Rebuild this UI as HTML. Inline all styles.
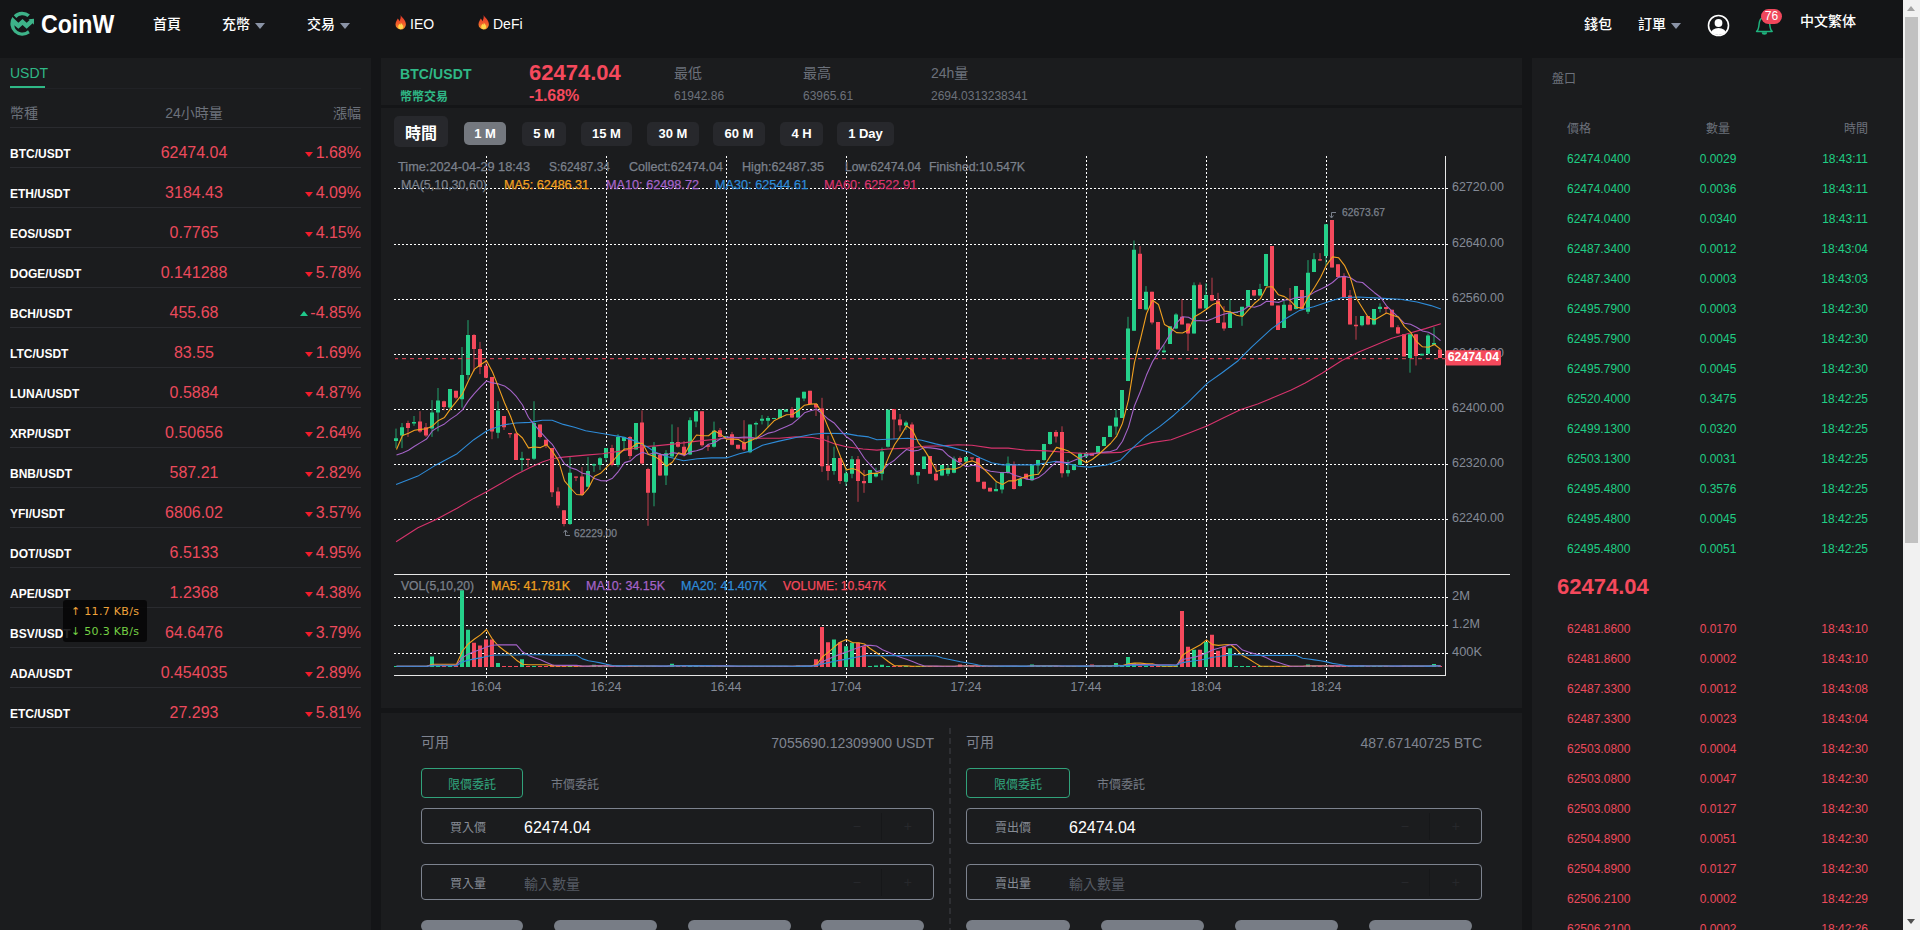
<!DOCTYPE html>
<html lang="zh-Hant">
<head>
<meta charset="utf-8">
<title>CoinW BTC/USDT</title>
<style>
*{box-sizing:border-box;margin:0;padding:0}
html,body{width:1920px;height:930px;overflow:hidden;background:#141517}
body{position:relative;font-family:"Liberation Sans","Noto Sans CJK TC",sans-serif;color:#fff;font-size:14px}
.abs{position:absolute}
#hdr{position:absolute;left:0;top:0;width:1903px;height:58px;background:#141517}
.nav{position:absolute;top:14px;height:20px;line-height:21px;font-size:14px;font-weight:500;color:#fff;white-space:nowrap}
.caret{display:inline-block;width:0;height:0;border-left:5px solid transparent;border-right:5px solid transparent;border-top:6px solid #8a93a6;margin-left:5px;vertical-align:0px}
.panel{position:absolute;background:#1b1c1e}
/* left */
#left{left:0;top:58px;width:371px;height:872px}
.mr{position:absolute;left:10px;width:351px;height:40px;border-bottom:1px solid #2a2b2f}
.mr span{position:absolute;top:0;line-height:50px;white-space:nowrap}
.mn{left:0;font-size:12px;font-weight:bold;color:#fff;top:1px!important}
.mp{left:109px;width:150px;text-align:center;font-size:16px;color:#ec4a5c}
.mc{right:0;font-size:16px;color:#ec4a5c}
.td{display:inline-block;width:0;height:0;border-left:4px solid transparent;border-right:4px solid transparent;border-top:5px solid #f21d2b;margin-right:3px;vertical-align:1px}
.tu{display:inline-block;width:0;height:0;border-left:4px solid transparent;border-right:4px solid transparent;border-bottom:5px solid #1fc98a;margin-right:2px;vertical-align:2px}
/* right */
#right{left:1532px;top:58px;width:371px;height:872px}
.or{position:absolute;left:35px;width:300px;height:30px;line-height:30px;font-size:12px;white-space:nowrap}
.or span{position:absolute;top:0}
.or span:nth-child(1){left:0}
.or span:nth-child(2){left:101px;width:100px;text-align:center}
.or span:nth-child(3){right:-1px}
.or.g{color:#1fce84}
.or.r{color:#ec4a5c}
.tb{position:absolute;top:121.5px;height:24px;line-height:24px;border-radius:5px;background:#27282c;color:#fff;font-size:13px;text-align:center;font-weight:bold}
.frm .lb{position:absolute;font-size:14px;color:#7f8490}
.inp{position:absolute;height:36px;border:1px solid #7d838f;border-radius:4px}
.inp .l{position:absolute;left:28px;top:2px;line-height:35px;font-size:12px;color:#878c96}
.inp .v{position:absolute;left:102px;top:1px;line-height:35px;font-size:16px;color:#fff}
.inp .ph{position:absolute;left:102px;top:2px;line-height:35px;font-size:14px;color:#555a63}
.inp .sp{position:absolute;right:51px;top:4px;width:1px;height:27px;background:#161719}
.inp .mi,.inp .pl{position:absolute;top:0;line-height:35px;font-size:14px;font-weight:normal;color:#27282c}.inp .mi{right:72px}.inp .pl{right:21px}
.pill{position:absolute;top:919.7px;height:12px;border-radius:6px;background:#787d86}
.ot{position:absolute;height:30px;width:102px;border:1px solid #31a27b;border-radius:4px;color:#31a77e;font-size:12px;line-height:32px;text-align:center}
.mt{position:absolute;font-size:12px;color:#757a84;line-height:34px}
</style>
</head>
<body>
<svg width="0" height="0" style="position:absolute"><defs><linearGradient id="fg" x1="0" y1="0" x2="0" y2="1"><stop offset="0" stop-color="#e2362a"/><stop offset=".55" stop-color="#f0582a"/><stop offset="1" stop-color="#f79a2e"/></linearGradient></defs></svg>
<div id="hdr">
  <svg class="abs" style="left:6px;top:8px" width="34" height="32" viewBox="0 0 988 930"><path d="M225 210A350 350 0 0 1 695 190L625 262A245 245 0 0 0 300 290Z M185 265L360 430L480 320L600 430L688 348L650 330L815 310L812 490L775 445L600 605L480 495L360 605L240 500A240 240 0 0 0 640 650L690 735A350 350 0 0 1 185 265Z" fill="#3db389"/></svg>
  <div class="abs" style="left:41px;top:8px;font-size:26px;font-weight:bold;line-height:32px;transform:scaleX(.89);transform-origin:0 0;letter-spacing:0">CoinW</div>
  <div class="nav" style="left:153px">首頁</div>
  <div class="nav" style="left:222px">充幣<i class="caret"></i></div>
  <div class="nav" style="left:307px">交易<i class="caret"></i></div>
  <div class="nav" style="left:395px"><svg width="12" height="15" viewBox="0 0 12 15" style="vertical-align:-0.5px;margin-right:3px"><path d="M5.6 0C6.4 2.4 10.9 4.8 10.9 9.2A5.2 5.2 0 0 1 .5 9.4C.5 7 2 5.4 2.8 3.6C3.6 4.4 4.1 5.3 4.3 6.2C5.4 4.6 6 2.6 5.6 0Z" fill="url(#fg)"/><path d="M5.7 7.4C7 9 8.2 10.2 8.2 11.8A2.5 2.5 0 0 1 3.2 11.8C3.2 10.4 4.1 9.8 4.6 8.8C5 9.2 5.2 9.5 5.4 9.9C5.7 9.1 5.9 8.3 5.7 7.4Z" fill="#ffd54a"/></svg>IEO</div>
  <div class="nav" style="left:478px"><svg width="12" height="15" viewBox="0 0 12 15" style="vertical-align:-0.5px;margin-right:3px"><path d="M5.6 0C6.4 2.4 10.9 4.8 10.9 9.2A5.2 5.2 0 0 1 .5 9.4C.5 7 2 5.4 2.8 3.6C3.6 4.4 4.1 5.3 4.3 6.2C5.4 4.6 6 2.6 5.6 0Z" fill="url(#fg)"/><path d="M5.7 7.4C7 9 8.2 10.2 8.2 11.8A2.5 2.5 0 0 1 3.2 11.8C3.2 10.4 4.1 9.8 4.6 8.8C5 9.2 5.2 9.5 5.4 9.9C5.7 9.1 5.9 8.3 5.7 7.4Z" fill="#ffd54a"/></svg>DeFi</div>
  <div class="nav" style="left:1584px">錢包</div>
  <div class="nav" style="left:1638px">訂單<i class="caret"></i></div>
  <svg class="abs" style="left:1707px;top:13.5px" width="23" height="23" viewBox="0 0 23 23"><defs><clipPath id="uc"><circle cx="11.5" cy="11.5" r="9.6"/></clipPath></defs><circle cx="11.5" cy="11.5" r="10" fill="none" stroke="#fff" stroke-width="1.6"/><circle cx="11.5" cy="9" r="3.9" fill="#fff"/><ellipse cx="11.5" cy="20.5" rx="8" ry="6.6" fill="#fff" clip-path="url(#uc)"/></svg>
  <svg class="abs" style="left:1754px;top:15px" width="22" height="22" viewBox="0 0 22 22"><path d="M2.6 16.4C5.4 14.4 4.6 9.6 5.6 6.4C6.4 3.8 8.2 2.6 10.4 2.6C12.6 2.6 14.4 3.8 15.2 6.4C16.2 9.6 15.4 14.4 18.2 16.4Z" fill="none" stroke="#1fb37e" stroke-width="1.5" stroke-linejoin="round"/><path d="M7.7 17.2a2.7 2.5 0 0 0 5.4 0z" fill="#1fb37e"/></svg>
  <div class="abs" style="left:1761px;top:9px;width:21px;height:15px;border-radius:7.5px;background:#f0475c;color:#fff;font-size:12px;line-height:15px;text-align:center">76</div>
  <div class="nav" style="left:1800px;top:11px">中文繁体</div>
</div>

<div class="panel" id="left">
  <div class="abs" style="left:10px;top:5px;font-size:14px;line-height:20px;color:#2fb886">USDT</div>
  <div class="abs" style="left:10px;top:30px;width:351px;height:1px;background:#212226"></div>
  <div class="abs" style="left:10px;top:28px;width:35px;height:2px;background:#2fb886"></div>
  <div class="abs" style="left:10px;top:45px;font-size:14px;line-height:20px;color:#6c717b">幣種</div>
  <div class="abs" style="left:119px;top:45px;width:150px;text-align:center;font-size:14px;line-height:20px;color:#6c717b">24小時量</div>
  <div class="abs" style="right:10px;top:45px;font-size:14px;line-height:20px;color:#6c717b">漲幅</div>
  <div class="abs" style="left:10px;top:69px;width:351px;height:1px;background:#2a2b2f"></div>
  <div id="rows" style="position:absolute;left:0;top:70px;width:371px">
<div class="mr" style="top:0px"><span class="mn">BTC/USDT</span><span class="mp">62474.04</span><span class="mc"><i class="td"></i>1.68%</span></div>
<div class="mr" style="top:40px"><span class="mn">ETH/USDT</span><span class="mp">3184.43</span><span class="mc"><i class="td"></i>4.09%</span></div>
<div class="mr" style="top:80px"><span class="mn">EOS/USDT</span><span class="mp">0.7765</span><span class="mc"><i class="td"></i>4.15%</span></div>
<div class="mr" style="top:120px"><span class="mn">DOGE/USDT</span><span class="mp">0.141288</span><span class="mc"><i class="td"></i>5.78%</span></div>
<div class="mr" style="top:160px"><span class="mn">BCH/USDT</span><span class="mp">455.68</span><span class="mc"><i class="tu"></i>-4.85%</span></div>
<div class="mr" style="top:200px"><span class="mn">LTC/USDT</span><span class="mp">83.55</span><span class="mc"><i class="td"></i>1.69%</span></div>
<div class="mr" style="top:240px"><span class="mn">LUNA/USDT</span><span class="mp">0.5884</span><span class="mc"><i class="td"></i>4.87%</span></div>
<div class="mr" style="top:280px"><span class="mn">XRP/USDT</span><span class="mp">0.50656</span><span class="mc"><i class="td"></i>2.64%</span></div>
<div class="mr" style="top:320px"><span class="mn">BNB/USDT</span><span class="mp">587.21</span><span class="mc"><i class="td"></i>2.82%</span></div>
<div class="mr" style="top:360px"><span class="mn">YFI/USDT</span><span class="mp">6806.02</span><span class="mc"><i class="td"></i>3.57%</span></div>
<div class="mr" style="top:400px"><span class="mn">DOT/USDT</span><span class="mp">6.5133</span><span class="mc"><i class="td"></i>4.95%</span></div>
<div class="mr" style="top:440px"><span class="mn">APE/USDT</span><span class="mp">1.2368</span><span class="mc"><i class="td"></i>4.38%</span></div>
<div class="mr" style="top:480px"><span class="mn">BSV/USDT</span><span class="mp">64.6476</span><span class="mc"><i class="td"></i>3.79%</span></div>
<div class="mr" style="top:520px"><span class="mn">ADA/USDT</span><span class="mp">0.454035</span><span class="mc"><i class="td"></i>2.89%</span></div>
<div class="mr" style="top:560px"><span class="mn">ETC/USDT</span><span class="mp">27.293</span><span class="mc"><i class="td"></i>5.81%</span></div>
  </div>
  <div class="abs" style="left:63px;top:542px;width:84px;height:42px;background:rgba(6,6,7,.88);border-radius:3px;font-family:'DejaVu Sans','Liberation Sans',sans-serif;font-size:11px;letter-spacing:.3px;line-height:19.5px;padding:2px 0 0 8px;white-space:nowrap"><div style="color:#f0a33a">↑ 11.7 KB/s</div><div style="color:#74d044">↓ 50.3 KB/s</div></div>
</div>

<div class="panel" style="left:381px;top:58px;width:1141px;height:47px">
  <div class="abs" style="left:19px;top:7px;font-size:14px;font-weight:bold;line-height:18px;color:#2fb886;letter-spacing:.1px">BTC/USDT</div>
  <div class="abs" style="left:19px;top:29.5px;font-size:12px;font-weight:bold;line-height:18px;color:#2fb886">幣幣交易</div>
  <div class="abs" style="left:148px;top:2.5px;font-size:22px;font-weight:bold;line-height:24px;color:#f5495c;letter-spacing:0">62474.04</div>
  <div class="abs" style="left:148px;top:29px;font-size:16px;font-weight:bold;line-height:18px;color:#f5495c;letter-spacing:-.1px">-1.68%</div>
  <div class="abs" style="left:293px;top:5px;font-size:14px;line-height:20px;color:#6c717b">最低</div>
  <div class="abs" style="left:293px;top:29px;font-size:12px;line-height:18px;color:#6c717b">61942.86</div>
  <div class="abs" style="left:422px;top:5px;font-size:14px;line-height:20px;color:#6c717b">最高</div>
  <div class="abs" style="left:422px;top:29px;font-size:12px;line-height:18px;color:#6c717b">63965.61</div>
  <div class="abs" style="left:550px;top:5px;font-size:14px;line-height:20px;color:#6c717b">24h量</div>
  <div class="abs" style="left:550px;top:29px;font-size:12px;line-height:18px;color:#6c717b">2694.0313238341</div>
</div>

<div class="panel" style="left:381px;top:108px;width:1141px;height:600px"></div>
<div class="abs" style="left:394px;top:116px;width:54px;height:31px;border-radius:5px;background:#27282c;font-size:16px;font-weight:bold;line-height:36px;text-align:center;color:#fff">時間</div>
<div class="tb" style="left:464px;width:42px;background:#74787f;top:122px;height:23px;line-height:23px">1 M</div>
<div class="tb" style="left:522px;width:44px">5 M</div>
<div class="tb" style="left:581px;width:51px">15 M</div>
<div class="tb" style="left:647px;width:52px">30 M</div>
<div class="tb" style="left:713px;width:52px">60 M</div>
<div class="tb" style="left:780px;width:43px">4 H</div>
<div class="tb" style="left:837px;width:57px">1 Day</div>
<svg class="chart" width="1140" height="600" viewBox="381 108 1140 600" style="position:absolute;left:381px;top:108px" font-family="Liberation Sans, sans-serif">
<path d="M394 188.5H1449M394 244.5H1449M394 299.5H1449M394 354.5H1449M394 409.5H1449M394 464.5H1449M394 519.5H1449M394 597.5H1449M394 625.5H1449M394 653.5H1449M486.5 156V679M606.5 156V679M726.5 156V679M846.5 156V679M966.5 156V679M1086.5 156V679M1206.5 156V679M1326.5 156V679" stroke="#fff" stroke-width="1" stroke-dasharray="2 2" fill="none" shape-rendering="crispEdges"/>
<path d="M1445.5 156V676M394 574.5H1510M394 675.5H1446" stroke="#e6e6e6" stroke-width="1" fill="none" shape-rendering="crispEdges"/>
<path d="M396 428.6V448.1M402 423.0V448.1M414 416.0V425.8M432 400.1V436.9M438 388.0V431.4M450 388.9V410.4M462 347.0V407.6M468 320.1V379.7M498 401.2V438.3M522 451.8V471.0M534 401.2V459.9M570 457.1V525.0M588 457.1V487.3M594 463.5V471.9M600 457.1V469.9M606 448.1V462.1M618 434.2V467.1M624 436.4V449.5M636 423.0V449.5M654 442.0V506.3M666 450.1V485.0M672 424.4V457.9M690 417.4V455.1M696 410.4V427.2M714 421.6V447.6M726 436.1V437.5M750 424.4V453.2M756 421.6V439.7M762 415.1V424.4M768 416.0V427.2M774 417.9V419.1M780 409.6V417.9M786 409.6V411.8M798 397.8V417.9M804 391.7V401.2M834 446.7V474.7M846 467.7V485.9M852 456.0V478.3M870 469.9V483.1M876 467.7V477.5M882 447.6V480.3M888 409.8V447.6M906 420.7V430.0M918 471.9V483.9M924 456.5V469.1M942 464.9V476.1M948 464.9V476.1M954 456.5V473.3M966 456.5V463.5M996 482.2V491.2M1002 471.9V493.4M1008 456.5V473.8M1020 478.9V486.7M1032 464.3V481.1M1038 459.9V474.7M1044 443.9V460.7M1050 431.9V444.8M1068 459.9V476.6M1074 464.3V470.5M1080 452.3V465.5M1086 452.3V457.9M1098 445.9V452.9M1104 437.0V445.9M1110 425.8V437.0M1116 409.6V434.8M1122 390.1V418.0M1128 316.8V381.1M1134 240.5V330.8M1146 286.1V310.4M1164 345.3V353.2M1170 326.3V343.9M1176 313.2V329.1M1194 282.4V333.6M1206 283.3V308.4M1230 299.2V328.0M1236 311.8V312.9M1242 306.8V325.8M1248 290.0V306.8M1260 283.8V296.4M1266 253.9V286.1M1284 300.1V328.0M1296 286.1V309.6M1308 260.1V314.0M1314 253.1V272.1M1326 224.3V265.7M1362 316.0V326.3M1374 309.0V325.2M1380 303.4V312.4M1410 334.2V372.7M1422 353.7V355.4M1428 333.6V354.3M1434 327.2V345.3" stroke="#25d08a" stroke-opacity=".75" stroke-width="1" fill="none"/>
<path d="M408 420.7V436.9M420 411.2V432.8M426 423.0V436.9M444 400.6V410.4M456 390.8V399.2M474 334.1V371.3M480 341.9V374.1M486 360.1V378.3M492 376.9V439.2M504 416.0V430.0M510 433.0V437.8M516 432.8V459.9M528 458.7V467.1M540 424.4V438.3M546 439.7V448.1M552 448.1V497.0M558 487.3V508.2M564 510.2V526.4M576 476.6V481.1M582 467.1V495.6M612 444.8V466.3M630 436.1V459.3M642 410.4V464.3M648 467.7V525.8M660 453.2V476.1M678 427.2V447.6M684 441.1V456.5M702 411.2V446.7M708 443.9V450.9M720 428.0V437.5M732 431.9V445.3M738 444.8V449.5M744 420.2V450.9M792 407.0V417.9M810 390.8V404.8M816 404.0V416.0M822 397.8V471.9M828 435.6V480.3M840 457.9V483.9M858 456.0V501.8M864 469.9V492.8M894 409.0V439.2M900 414.0V431.4M912 422.4V475.5M930 456.0V473.8M936 464.3V481.1M960 456.5V464.9M972 457.4V460.7M978 457.9V482.2M984 481.7V489.5M990 487.8V491.4M1014 461.5V489.5M1026 473.8V479.4M1056 430.0V442.5M1062 426.3V477.5M1092 452.9V455.7M1140 246.1V309.0M1152 291.7V324.4M1158 321.9V349.5M1182 299.2V324.4M1188 323.5V350.9M1200 282.4V308.4M1212 277.7V301.2M1218 292.8V323.0M1224 306.2V330.8M1254 290.0V296.4M1272 246.1V305.6M1278 305.6V330.0M1290 288.0V311.2M1302 290.0V309.6M1320 253.1V260.9M1332 220.1V267.6M1338 264.3V276.9M1344 273.2V297.8M1350 290.0V324.4M1356 316.0V339.7M1368 316.0V325.2M1386 307.0V313.2M1392 309.8V327.2M1398 325.2V334.2M1404 334.2V356.5M1416 334.2V365.5M1440 349.5V357.9" stroke="#f5495c" stroke-opacity=".75" stroke-width="1" fill="none"/>
<path d="M394 438.3h4v2.8h-4zM400 427.2h4v8.4h-4zM412 421.9h4v1.6h-4zM430 412.6h4v16.0h-4zM436 400.6h4v12.0h-4zM448 388.9h4v18.7h-4zM460 374.9h4v24.3h-4zM466 334.9h4v40.0h-4zM496 410.4h4v22.4h-4zM520 458.2h4v1.7h-4zM532 423.0h4v35.7h-4zM568 472.7h4v51.4h-4zM586 471.0h4v15.7h-4zM592 464.3h4v1.2h-4zM598 458.2h4v6.7h-4zM604 448.1h4v9.8h-4zM616 436.9h4v28.0h-4zM622 436.9h4v4.2h-4zM634 423.0h4v26.5h-4zM652 446.7h4v46.1h-4zM664 453.2h4v22.3h-4zM670 442.0h4v14.5h-4zM688 420.2h4v34.4h-4zM694 411.2h4v10.4h-4zM712 430.8h4v15.9h-4zM724 436.1h4v1.4h-4zM748 424.4h4v27.9h-4zM754 423.0h4v1.4h-4zM760 418.8h4v1.9h-4zM766 417.9h4v2.8h-4zM772 417.9h4v1.2h-4zM778 409.6h4v8.3h-4zM784 409.6h4v2.2h-4zM796 397.8h4v19.6h-4zM802 391.7h4v6.7h-4zM832 457.9h4v13.1h-4zM844 473.3h4v8.4h-4zM850 459.3h4v14.5h-4zM868 469.9h4v13.2h-4zM874 473.3h4v3.3h-4zM880 451.5h4v22.3h-4zM886 409.8h4v36.9h-4zM904 422.4h4v3.4h-4zM916 471.9h4v3.6h-4zM922 456.5h4v12.6h-4zM940 464.9h4v10.6h-4zM946 468.3h4v5.5h-4zM952 458.7h4v14.0h-4zM964 457.1h4v4.4h-4zM994 488.9h4v2.3h-4zM1000 471.9h4v17.6h-4zM1006 463.5h4v9.2h-4zM1018 478.9h4v7.0h-4zM1030 464.9h4v15.4h-4zM1036 459.9h4v5.6h-4zM1042 443.9h4v16.0h-4zM1048 431.9h4v12.0h-4zM1066 469.9h4v3.4h-4zM1072 464.3h4v5.6h-4zM1078 453.2h4v11.7h-4zM1084 453.2h4v3.3h-4zM1096 445.9h4v7.0h-4zM1102 437.0h4v8.9h-4zM1108 425.8h4v11.2h-4zM1114 417.4h4v9.0h-4zM1120 390.1h4v27.9h-4zM1126 328.6h4v52.5h-4zM1132 249.7h4v81.1h-4zM1144 291.7h4v17.9h-4zM1162 350.4h4v1.9h-4zM1168 326.3h4v17.6h-4zM1174 314.6h4v14.0h-4zM1192 285.2h4v48.4h-4zM1204 295.0h4v13.4h-4zM1228 312.4h4v15.6h-4zM1234 311.8h4v1.1h-4zM1240 306.8h4v9.2h-4zM1246 290.0h4v16.8h-4zM1258 288.9h4v6.7h-4zM1264 253.9h4v32.2h-4zM1282 304.8h4v23.2h-4zM1294 286.1h4v22.9h-4zM1306 272.7h4v39.1h-4zM1312 259.3h4v12.8h-4zM1324 224.3h4v31.6h-4zM1360 316.0h4v9.2h-4zM1372 309.0h4v15.4h-4zM1378 306.8h4v2.2h-4zM1408 334.2h4v23.7h-4zM1420 353.7h4v1.7h-4zM1426 335.6h4v18.1h-4zM1432 343.1h4v1.7h-4z" fill="#25d08a"/>
<path d="M406 423.0h4v5.0h-4zM418 421.6h4v9.8h-4zM424 427.2h4v8.4h-4zM442 401.2h4v5.8h-4zM454 390.8h4v7.0h-4zM472 334.9h4v14.0h-4zM478 348.9h4v18.2h-4zM484 365.7h4v12.0h-4zM490 376.9h4v54.5h-4zM502 416.0h4v11.2h-4zM508 433.0h4v1.2h-4zM514 433.6h4v26.3h-4zM526 458.7h4v1.2h-4zM538 424.4h4v12.5h-4zM544 439.7h4v5.6h-4zM550 448.1h4v44.2h-4zM556 491.4h4v14.0h-4zM562 510.2h4v13.9h-4zM574 476.6h4v1.2h-4zM580 476.6h4v18.5h-4zM610 448.1h4v16.8h-4zM628 436.9h4v19.1h-4zM640 422.4h4v41.1h-4zM646 469.1h4v23.7h-4zM658 455.1h4v20.4h-4zM676 442.0h4v4.7h-4zM682 446.7h4v8.4h-4zM700 411.2h4v34.1h-4zM706 445.3h4v1.4h-4zM718 430.2h4v6.7h-4zM730 434.2h4v10.6h-4zM736 444.8h4v3.9h-4zM742 442.5h4v7.0h-4zM790 409.0h4v8.4h-4zM808 390.8h4v13.2h-4zM814 404.0h4v3.6h-4zM820 408.4h4v57.9h-4zM826 465.5h4v5.5h-4zM838 457.9h4v23.2h-4zM856 459.3h4v21.8h-4zM862 481.1h4v2.2h-4zM892 409.0h4v10.6h-4zM898 419.6h4v5.6h-4zM910 424.4h4v50.3h-4zM928 456.0h4v17.8h-4zM934 473.8h4v6.5h-4zM958 457.9h4v4.2h-4zM970 457.4h4v1.1h-4zM976 457.9h4v23.8h-4zM982 481.7h4v7.0h-4zM988 487.8h4v3.6h-4zM1012 464.3h4v24.6h-4zM1024 473.8h4v5.1h-4zM1054 431.9h4v4.5h-4zM1060 431.9h4v41.4h-4zM1090 452.9h4v2.8h-4zM1138 253.7h4v55.3h-4zM1150 291.7h4v30.7h-4zM1156 321.9h4v27.6h-4zM1180 316.8h4v7.6h-4zM1186 323.5h4v10.1h-4zM1198 284.7h4v23.7h-4zM1210 295.0h4v5.6h-4zM1216 300.6h4v22.4h-4zM1222 322.4h4v6.2h-4zM1252 290.0h4v5.6h-4zM1270 246.1h4v59.5h-4zM1276 305.6h4v24.4h-4zM1288 304.8h4v5.6h-4zM1300 290.0h4v19.0h-4zM1318 259.3h4v1.1h-4zM1330 220.1h4v47.5h-4zM1336 264.3h4v12.6h-4zM1342 276.0h4v21.3h-4zM1348 295.6h4v28.8h-4zM1354 324.7h4v1.6h-4zM1366 316.0h4v8.4h-4zM1384 307.0h4v2.0h-4zM1390 309.8h4v17.4h-4zM1396 327.2h4v6.4h-4zM1402 334.2h4v22.3h-4zM1414 334.2h4v21.8h-4zM1438 349.5h4v8.4h-4z" fill="#f5495c"/>
<path d="M395 358.7H1446" stroke="#f5495c" stroke-opacity="1" stroke-width="1" stroke-dasharray="4 4" stroke-dashoffset="1" fill="none"/>
<polyline points="396.1,541.8 417.9,527.8 436.1,519.4 457.1,508.2 473.8,498.4 487.0,491.4 501.8,483.1 515.8,474.7 529.7,467.7 542.3,462.1 552.1,458.7 563.3,457.1 585.6,455.1 602.4,453.7 622.0,450.9 641.5,446.7 655.5,445.9 675.1,443.9 697.4,441.1 726.5,438.3 739.4,437.8 756.8,438.3 779.1,438.3 795.9,436.9 812.7,437.5 823.8,439.7 835.0,443.9 846.2,446.7 863.0,449.0 876.9,450.1 888.1,449.0 907.7,448.1 924.5,446.2 941.2,445.9 958.0,444.8 972.0,445.3 991.5,448.1 1008.3,448.1 1025.1,450.1 1047.4,450.9 1064.2,452.3 1081.0,453.2 1089.4,453.2 1106.8,452.9 1120.7,452.4 1134.7,447.3 1151.5,442.6 1171.1,439.8 1187.8,433.4 1207.4,425.8 1224.2,417.4 1240.9,409.6 1257.7,404.0 1274.5,397.0 1291.2,390.1 1305.2,383.1 1322.0,373.3 1341.5,360.7 1358.3,352.3 1375.1,345.3 1391.8,338.3 1405.8,334.2 1425.4,328.6 1440.8,323.8" stroke="#d6336c" stroke-width="1.1" fill="none" stroke-linejoin="round"/>
<polyline points="396.1,484.5 417.9,476.1 436.1,464.9 457.1,453.7 473.8,439.7 487.0,430.8 501.8,425.2 515.8,423.0 529.7,422.4 542.3,420.2 552.1,420.2 563.3,424.4 574.5,427.2 585.6,430.8 606.6,434.2 622.0,436.9 635.9,441.1 647.1,446.7 655.5,452.3 666.7,456.5 683.5,460.7 697.4,458.7 711.4,457.9 726.5,457.9 739.4,453.7 751.2,450.9 762.4,445.3 779.1,441.1 795.9,437.5 812.7,434.2 823.8,433.3 846.2,433.6 857.4,435.6 868.6,436.9 876.9,439.7 888.1,439.2 907.7,438.3 921.7,440.3 935.6,443.9 952.4,447.6 969.2,452.3 980.4,457.9 991.5,462.7 1002.7,464.9 1019.5,464.9 1033.5,464.9 1047.4,462.7 1055.8,461.3 1067.0,463.5 1078.2,466.3 1089.4,467.1 1106.8,465.0 1120.7,459.9 1131.9,448.7 1145.9,436.2 1159.9,426.4 1173.8,415.2 1187.8,402.6 1207.4,383.1 1221.4,373.3 1238.1,360.7 1252.1,346.7 1271.7,328.6 1285.6,318.8 1299.6,310.4 1313.6,306.8 1327.6,302.0 1341.5,297.8 1358.3,297.0 1383.5,298.4 1400.2,299.2 1417.0,302.0 1431.0,305.6 1440.8,309.0" stroke="#2e8bd8" stroke-width="1.1" fill="none" stroke-linejoin="round"/>
<polyline points="396.5,455.1 402.5,452.9 408.5,450.2 414.5,446.2 420.5,442.6 426.5,439.1 432.5,430.7 438.5,426.9 444.5,423.9 450.5,419.1 456.5,415.1 462.5,409.9 468.5,400.6 474.5,393.3 480.5,386.8 486.5,381.0 492.5,382.9 498.5,383.9 504.5,385.9 510.5,390.4 516.5,396.7 522.5,405.0 528.5,417.5 534.5,424.9 540.5,431.9 546.5,438.6 552.5,444.7 558.5,454.2 564.5,463.9 570.5,467.8 576.5,469.6 582.5,473.2 588.5,474.4 594.5,478.5 600.5,480.6 606.5,480.9 612.5,478.2 618.5,471.3 624.5,462.6 630.5,460.9 636.5,455.4 642.5,452.3 648.5,454.5 654.5,452.7 660.5,454.4 666.5,454.9 672.5,452.6 678.5,453.6 684.5,455.4 690.5,451.9 696.5,450.7 702.5,448.9 708.5,444.3 714.5,442.7 720.5,438.8 726.5,437.1 732.5,437.4 738.5,437.6 744.5,437.0 750.5,437.4 756.5,438.6 762.5,436.0 768.5,433.1 774.5,431.8 780.5,429.1 786.5,426.4 792.5,423.7 798.5,418.6 804.5,412.8 810.5,410.8 816.5,409.2 822.5,414.0 828.5,419.3 834.5,423.3 840.5,430.4 846.5,436.8 852.5,441.0 858.5,449.3 864.5,458.5 870.5,465.1 876.5,471.6 882.5,470.2 888.5,464.1 894.5,460.2 900.5,454.6 906.5,449.5 912.5,451.1 918.5,450.2 924.5,447.5 930.5,447.9 936.5,448.6 942.5,449.9 948.5,455.8 954.5,459.7 960.5,463.4 966.5,466.8 972.5,465.2 978.5,466.2 984.5,469.4 990.5,471.2 996.5,472.0 1002.5,472.7 1008.5,472.2 1014.5,475.3 1020.5,476.9 1026.5,479.1 1032.5,479.8 1038.5,477.6 1044.5,473.1 1050.5,467.2 1056.5,461.9 1062.5,462.1 1068.5,462.7 1074.5,460.2 1080.5,457.7 1086.5,455.1 1092.5,454.2 1098.5,452.8 1104.5,452.1 1110.5,451.5 1116.5,449.6 1122.5,441.2 1128.5,427.1 1134.5,405.7 1140.5,391.2 1146.5,375.1 1152.5,361.8 1158.5,352.1 1164.5,343.5 1170.5,333.5 1176.5,323.2 1182.5,316.7 1188.5,317.2 1194.5,320.7 1200.5,320.6 1206.5,321.0 1212.5,318.8 1218.5,316.1 1224.5,314.0 1230.5,312.6 1236.5,312.3 1242.5,310.5 1248.5,306.2 1254.5,307.2 1260.5,305.3 1266.5,301.2 1272.5,301.7 1278.5,302.4 1284.5,300.0 1290.5,299.8 1296.5,297.2 1302.5,297.4 1308.5,295.7 1314.5,292.1 1320.5,289.2 1326.5,286.3 1332.5,282.5 1338.5,277.1 1344.5,276.4 1350.5,277.8 1356.5,281.8 1362.5,282.5 1368.5,287.7 1374.5,292.7 1380.5,297.3 1386.5,305.8 1392.5,311.7 1398.5,317.4 1404.5,323.3 1410.5,324.3 1416.5,327.3 1422.5,331.0 1428.5,332.2 1434.5,335.6 1440.5,340.7" stroke="#a463c7" stroke-width="1.1" fill="none" stroke-linejoin="round"/>
<polyline points="396.5,449.5 402.5,435.5 408.5,433.3 414.5,430.3 420.5,429.4 426.5,428.8 432.5,425.9 438.5,420.4 444.5,417.4 450.5,408.9 456.5,401.4 462.5,393.8 468.5,380.7 474.5,369.1 480.5,364.7 486.5,360.7 492.5,372.0 498.5,387.1 504.5,402.8 510.5,416.2 516.5,432.6 522.5,438.0 528.5,447.9 534.5,447.0 540.5,447.6 546.5,444.7 552.5,451.5 558.5,460.6 564.5,480.8 570.5,488.0 576.5,494.5 582.5,495.0 588.5,488.1 594.5,476.2 600.5,473.3 606.5,467.3 612.5,461.3 618.5,454.5 624.5,449.0 630.5,448.6 636.5,443.5 642.5,443.3 648.5,454.4 654.5,456.4 660.5,460.3 666.5,466.3 672.5,462.0 678.5,452.8 684.5,454.5 690.5,443.4 696.5,435.0 702.5,435.7 708.5,435.7 714.5,430.8 720.5,434.2 726.5,439.2 732.5,439.1 738.5,439.5 744.5,443.2 750.5,440.7 756.5,438.1 762.5,432.9 768.5,426.7 774.5,420.4 780.5,417.4 786.5,414.8 792.5,414.5 798.5,410.5 804.5,405.2 810.5,404.1 816.5,403.7 822.5,413.5 828.5,428.1 834.5,441.4 840.5,456.8 846.5,469.9 852.5,468.5 858.5,470.5 864.5,475.6 870.5,473.4 876.5,473.4 882.5,471.8 888.5,457.6 894.5,444.8 900.5,435.9 906.5,425.7 912.5,430.3 918.5,442.8 924.5,450.1 930.5,459.9 936.5,471.4 942.5,469.5 948.5,468.8 954.5,469.2 960.5,466.9 966.5,462.2 972.5,460.9 978.5,463.6 984.5,469.6 990.5,475.5 996.5,481.8 1002.5,484.5 1008.5,480.9 1014.5,480.9 1020.5,478.4 1026.5,476.4 1032.5,475.0 1038.5,474.3 1044.5,465.3 1050.5,455.9 1056.5,447.4 1062.5,449.1 1068.5,451.1 1074.5,455.2 1080.5,459.4 1086.5,462.8 1092.5,459.3 1098.5,454.5 1104.5,449.0 1110.5,443.5 1116.5,436.4 1122.5,423.2 1128.5,399.8 1134.5,362.3 1140.5,339.0 1146.5,313.8 1152.5,300.3 1158.5,304.5 1164.5,324.6 1170.5,328.1 1176.5,332.6 1182.5,333.0 1188.5,329.9 1194.5,316.8 1200.5,313.2 1206.5,309.3 1212.5,304.6 1218.5,302.4 1224.5,311.1 1230.5,311.9 1236.5,315.3 1242.5,316.5 1248.5,309.9 1254.5,303.3 1260.5,298.6 1266.5,287.0 1272.5,286.8 1278.5,294.8 1284.5,296.6 1290.5,300.9 1296.5,307.4 1302.5,308.1 1308.5,296.6 1314.5,287.5 1320.5,277.5 1326.5,265.1 1332.5,256.9 1338.5,257.7 1344.5,265.3 1350.5,278.1 1356.5,298.5 1362.5,308.2 1368.5,317.7 1374.5,320.0 1380.5,316.5 1386.5,313.0 1392.5,315.3 1398.5,317.1 1404.5,326.6 1410.5,332.1 1416.5,341.5 1422.5,346.8 1428.5,347.2 1434.5,344.5 1440.5,349.3" stroke="#f0a020" stroke-width="1.1" fill="none" stroke-linejoin="round"/>
<path d="M394 667h4v-1.0h-4zM400 667h4v-1.0h-4zM412 667h4v-1.0h-4zM430 667h4v-10.5h-4zM436 667h4v-1.0h-4zM448 667h4v-1.0h-4zM460 667h4v-76.7h-4zM466 667h4v-37.3h-4zM496 667h4v-4.1h-4zM520 667h4v-7.7h-4zM532 667h4v-1.0h-4zM568 667h4v-1.0h-4zM586 667h4v-1.0h-4zM592 667h4v-2.2h-4zM598 667h4v-1.0h-4zM604 667h4v-1.0h-4zM616 667h4v-1.0h-4zM622 667h4v-1.0h-4zM634 667h4v-1.0h-4zM652 667h4v-1.0h-4zM664 667h4v-1.0h-4zM670 667h4v-3.3h-4zM688 667h4v-1.0h-4zM694 667h4v-1.0h-4zM712 667h4v-1.0h-4zM724 667h4v-1.0h-4zM748 667h4v-1.0h-4zM754 667h4v-1.0h-4zM760 667h4v-1.0h-4zM766 667h4v-1.0h-4zM772 667h4v-1.0h-4zM778 667h4v-1.0h-4zM784 667h4v-1.0h-4zM796 667h4v-1.5h-4zM802 667h4v-1.0h-4zM832 667h4v-27.6h-4zM844 667h4v-20.7h-4zM850 667h4v-24.3h-4zM868 667h4v-1.0h-4zM874 667h4v-1.4h-4zM880 667h4v-2.2h-4zM886 667h4v-1.0h-4zM904 667h4v-1.0h-4zM916 667h4v-1.0h-4zM922 667h4v-1.0h-4zM940 667h4v-1.0h-4zM946 667h4v-1.0h-4zM952 667h4v-1.0h-4zM964 667h4v-1.0h-4zM994 667h4v-1.0h-4zM1000 667h4v-1.0h-4zM1006 667h4v-1.0h-4zM1018 667h4v-1.0h-4zM1030 667h4v-2.5h-4zM1036 667h4v-1.0h-4zM1042 667h4v-1.0h-4zM1048 667h4v-1.0h-4zM1066 667h4v-1.0h-4zM1072 667h4v-1.0h-4zM1078 667h4v-1.0h-4zM1084 667h4v-1.0h-4zM1096 667h4v-1.0h-4zM1102 667h4v-1.0h-4zM1108 667h4v-1.0h-4zM1114 667h4v-4.0h-4zM1120 667h4v-1.0h-4zM1126 667h4v-10.0h-4zM1132 667h4v-3.8h-4zM1144 667h4v-1.0h-4zM1162 667h4v-1.0h-4zM1168 667h4v-1.0h-4zM1174 667h4v-1.0h-4zM1192 667h4v-17.2h-4zM1204 667h4v-25.0h-4zM1228 667h4v-18.8h-4zM1234 667h4v-1.0h-4zM1240 667h4v-1.0h-4zM1246 667h4v-1.0h-4zM1258 667h4v-1.0h-4zM1264 667h4v-1.0h-4zM1282 667h4v-1.0h-4zM1294 667h4v-1.0h-4zM1306 667h4v-2.5h-4zM1312 667h4v-1.0h-4zM1324 667h4v-1.0h-4zM1360 667h4v-1.6h-4zM1372 667h4v-1.0h-4zM1378 667h4v-1.0h-4zM1408 667h4v-1.0h-4zM1420 667h4v-1.0h-4zM1426 667h4v-1.0h-4zM1432 667h4v-3.1h-4z" fill="#25d08a"/>
<path d="M406 667h4v-1.0h-4zM418 667h4v-1.0h-4zM424 667h4v-1.0h-4zM442 667h4v-1.0h-4zM454 667h4v-1.0h-4zM472 667h4v-24.3h-4zM478 667h4v-21.5h-4zM484 667h4v-27.6h-4zM490 667h4v-27.6h-4zM502 667h4v-1.0h-4zM508 667h4v-1.0h-4zM514 667h4v-1.0h-4zM526 667h4v-1.0h-4zM538 667h4v-1.0h-4zM544 667h4v-1.0h-4zM550 667h4v-2.2h-4zM556 667h4v-1.0h-4zM562 667h4v-1.0h-4zM574 667h4v-1.0h-4zM580 667h4v-1.0h-4zM610 667h4v-1.0h-4zM628 667h4v-1.4h-4zM640 667h4v-1.0h-4zM646 667h4v-1.0h-4zM658 667h4v-1.0h-4zM676 667h4v-1.4h-4zM682 667h4v-1.0h-4zM700 667h4v-1.0h-4zM706 667h4v-1.0h-4zM718 667h4v-1.0h-4zM730 667h4v-1.0h-4zM736 667h4v-1.0h-4zM742 667h4v-1.0h-4zM790 667h4v-1.0h-4zM808 667h4v-1.0h-4zM814 667h4v-7.7h-4zM820 667h4v-40.0h-4zM826 667h4v-24.8h-4zM838 667h4v-24.8h-4zM856 667h4v-24.3h-4zM862 667h4v-20.7h-4zM892 667h4v-1.0h-4zM898 667h4v-1.0h-4zM910 667h4v-1.0h-4zM928 667h4v-1.0h-4zM934 667h4v-1.0h-4zM958 667h4v-2.5h-4zM970 667h4v-1.0h-4zM976 667h4v-1.0h-4zM982 667h4v-1.0h-4zM988 667h4v-1.0h-4zM1012 667h4v-1.0h-4zM1024 667h4v-1.0h-4zM1054 667h4v-1.0h-4zM1060 667h4v-1.0h-4zM1090 667h4v-2.5h-4zM1138 667h4v-1.0h-4zM1150 667h4v-1.0h-4zM1156 667h4v-1.0h-4zM1180 667h4v-56.0h-4zM1186 667h4v-20.3h-4zM1198 667h4v-17.2h-4zM1210 667h4v-32.2h-4zM1216 667h4v-16.3h-4zM1222 667h4v-20.3h-4zM1252 667h4v-1.0h-4zM1270 667h4v-1.0h-4zM1276 667h4v-1.0h-4zM1288 667h4v-1.0h-4zM1300 667h4v-1.0h-4zM1318 667h4v-1.0h-4zM1330 667h4v-1.9h-4zM1336 667h4v-1.0h-4zM1342 667h4v-1.0h-4zM1348 667h4v-1.0h-4zM1354 667h4v-1.0h-4zM1366 667h4v-1.0h-4zM1384 667h4v-1.0h-4zM1390 667h4v-1.0h-4zM1396 667h4v-1.0h-4zM1402 667h4v-1.3h-4zM1414 667h4v-1.0h-4zM1438 667h4v-1.0h-4z" fill="#f5495c"/>
<polyline points="396.5,666.2 402.5,666.2 408.5,666.2 414.5,666.2 420.5,666.2 426.5,666.2 432.5,664.3 438.5,664.3 444.5,664.3 450.5,664.3 456.5,664.3 462.5,651.0 468.5,643.7 474.5,639.0 480.5,634.9 486.5,629.5 492.5,639.3 498.5,646.0 504.5,650.7 510.5,654.8 516.5,660.2 522.5,664.2 528.5,664.8 534.5,664.8 540.5,664.8 546.5,664.8 552.5,665.9 558.5,665.9 564.5,665.9 570.5,665.9 576.5,665.9 582.5,666.2 588.5,666.2 594.5,665.9 600.5,665.9 606.5,665.9 612.5,665.9 618.5,665.9 624.5,666.2 630.5,666.1 636.5,666.1 642.5,666.1 648.5,666.1 654.5,666.1 660.5,666.2 666.5,666.2 672.5,665.7 678.5,665.6 684.5,665.6 690.5,665.6 696.5,665.6 702.5,666.1 708.5,666.2 714.5,666.2 720.5,666.2 726.5,666.2 732.5,666.2 738.5,666.2 744.5,666.2 750.5,666.2 756.5,666.2 762.5,666.2 768.5,666.2 774.5,666.2 780.5,666.2 786.5,666.2 792.5,666.2 798.5,666.0 804.5,666.0 810.5,666.0 816.5,664.6 822.5,656.8 828.5,652.1 834.5,646.8 840.5,642.0 846.5,639.4 852.5,642.6 858.5,642.7 864.5,644.0 870.5,648.8 876.5,652.7 882.5,657.1 888.5,661.8 894.5,665.8 900.5,665.8 906.5,665.9 912.5,666.2 918.5,666.2 924.5,666.2 930.5,666.2 936.5,666.2 942.5,666.2 948.5,666.2 954.5,666.2 960.5,665.9 966.5,665.9 972.5,665.9 978.5,665.9 984.5,665.9 990.5,666.2 996.5,666.2 1002.5,666.2 1008.5,666.2 1014.5,666.2 1020.5,666.2 1026.5,666.2 1032.5,665.9 1038.5,665.9 1044.5,665.9 1050.5,665.9 1056.5,665.9 1062.5,666.2 1068.5,666.2 1074.5,666.2 1080.5,666.2 1086.5,666.2 1092.5,665.9 1098.5,665.9 1104.5,665.9 1110.5,665.9 1116.5,665.2 1122.5,665.6 1128.5,663.7 1134.5,663.1 1140.5,663.1 1146.5,663.8 1152.5,663.8 1158.5,665.6 1164.5,666.2 1170.5,666.2 1176.5,666.2 1182.5,655.2 1188.5,651.3 1194.5,648.0 1200.5,644.7 1206.5,639.9 1212.5,644.6 1218.5,645.4 1224.5,644.8 1230.5,644.5 1236.5,649.3 1242.5,655.6 1248.5,658.7 1254.5,662.6 1260.5,666.2 1266.5,666.2 1272.5,666.2 1278.5,666.2 1284.5,666.2 1290.5,666.2 1296.5,666.2 1302.5,666.2 1308.5,665.9 1314.5,665.9 1320.5,665.9 1326.5,665.9 1332.5,665.6 1338.5,666.0 1344.5,666.0 1350.5,666.0 1356.5,666.0 1362.5,666.0 1368.5,666.0 1374.5,666.0 1380.5,666.0 1386.5,666.0 1392.5,666.2 1398.5,666.2 1404.5,666.1 1410.5,666.1 1416.5,666.1 1422.5,666.1 1428.5,666.1 1434.5,665.7 1440.5,665.7" stroke="#f0a020" stroke-width="1.1" fill="none" stroke-linejoin="round"/>
<polyline points="396.5,666.2 402.5,666.2 408.5,666.2 414.5,666.2 420.5,666.2 426.5,666.2 432.5,665.2 438.5,665.2 444.5,665.2 450.5,665.2 456.5,665.2 462.5,657.6 468.5,654.0 474.5,651.6 480.5,649.6 486.5,646.9 492.5,645.2 498.5,644.9 504.5,644.9 510.5,644.9 516.5,644.9 522.5,651.8 528.5,655.4 534.5,657.8 540.5,659.8 546.5,662.5 552.5,665.0 558.5,665.4 564.5,665.4 570.5,665.4 576.5,665.4 582.5,666.1 588.5,666.1 594.5,665.9 600.5,665.9 606.5,665.9 612.5,666.1 618.5,666.1 624.5,666.1 630.5,666.0 636.5,666.0 642.5,666.0 648.5,666.0 654.5,666.1 660.5,666.1 666.5,666.1 672.5,665.9 678.5,665.8 684.5,665.8 690.5,665.9 696.5,665.9 702.5,665.9 708.5,665.9 714.5,665.9 720.5,665.9 726.5,665.9 732.5,666.1 738.5,666.2 744.5,666.2 750.5,666.2 756.5,666.2 762.5,666.2 768.5,666.2 774.5,666.2 780.5,666.2 786.5,666.2 792.5,666.2 798.5,666.1 804.5,666.1 810.5,666.1 816.5,665.4 822.5,661.5 828.5,659.1 834.5,656.4 840.5,654.0 846.5,652.0 852.5,649.7 858.5,647.4 864.5,645.4 870.5,645.4 876.5,646.0 882.5,649.8 888.5,652.2 894.5,654.9 900.5,657.3 906.5,659.3 912.5,661.6 918.5,664.0 924.5,666.0 930.5,666.0 936.5,666.1 942.5,666.2 948.5,666.2 954.5,666.2 960.5,666.0 966.5,666.0 972.5,666.0 978.5,666.0 984.5,666.0 990.5,666.0 996.5,666.0 1002.5,666.0 1008.5,666.0 1014.5,666.0 1020.5,666.2 1026.5,666.2 1032.5,666.0 1038.5,666.0 1044.5,666.0 1050.5,666.0 1056.5,666.0 1062.5,666.0 1068.5,666.0 1074.5,666.0 1080.5,666.0 1086.5,666.0 1092.5,666.0 1098.5,666.0 1104.5,666.0 1110.5,666.0 1116.5,665.7 1122.5,665.7 1128.5,664.8 1134.5,664.5 1140.5,664.5 1146.5,664.5 1152.5,664.7 1158.5,664.7 1164.5,664.7 1170.5,664.7 1176.5,665.0 1182.5,659.5 1188.5,658.4 1194.5,657.1 1200.5,655.5 1206.5,653.0 1212.5,649.9 1218.5,648.3 1224.5,646.4 1230.5,644.6 1236.5,644.6 1242.5,650.1 1248.5,652.1 1254.5,653.7 1260.5,655.3 1266.5,657.8 1272.5,660.9 1278.5,662.5 1284.5,664.4 1290.5,666.2 1296.5,666.2 1302.5,666.2 1308.5,666.0 1314.5,666.0 1320.5,666.0 1326.5,666.0 1332.5,665.9 1338.5,665.9 1344.5,665.9 1350.5,665.9 1356.5,665.9 1362.5,665.8 1368.5,666.0 1374.5,666.0 1380.5,666.0 1386.5,666.0 1392.5,666.1 1398.5,666.1 1404.5,666.1 1410.5,666.1 1416.5,666.1 1422.5,666.1 1428.5,666.1 1434.5,665.9 1440.5,665.9" stroke="#a463c7" stroke-width="1.1" fill="none" stroke-linejoin="round"/>
<polyline points="396.5,666.2 402.5,666.2 408.5,666.2 414.5,666.2 420.5,666.2 426.5,666.2 432.5,665.7 438.5,665.7 444.5,665.7 450.5,665.7 456.5,665.7 462.5,661.9 468.5,660.1 474.5,658.9 480.5,657.9 486.5,656.5 492.5,655.2 498.5,655.0 504.5,655.0 510.5,655.0 516.5,655.0 522.5,654.7 528.5,654.7 534.5,654.7 540.5,654.7 546.5,654.7 552.5,655.1 558.5,655.1 564.5,655.1 570.5,655.1 576.5,655.1 582.5,658.9 588.5,660.7 594.5,661.8 600.5,662.9 606.5,664.2 612.5,665.5 618.5,665.7 624.5,665.7 630.5,665.7 636.5,665.7 642.5,666.0 648.5,666.0 654.5,666.0 660.5,666.0 666.5,666.0 672.5,666.0 678.5,665.9 684.5,665.9 690.5,665.9 696.5,665.9 702.5,665.9 708.5,665.9 714.5,666.0 720.5,666.0 726.5,666.0 732.5,666.0 738.5,666.0 744.5,666.0 750.5,666.0 756.5,666.0 762.5,666.0 768.5,666.0 774.5,666.0 780.5,666.0 786.5,666.0 792.5,666.2 798.5,666.2 804.5,666.1 810.5,666.1 816.5,665.8 822.5,663.8 828.5,662.6 834.5,661.3 840.5,660.1 846.5,659.1 852.5,657.9 858.5,656.8 864.5,655.8 870.5,655.8 876.5,655.7 882.5,655.6 888.5,655.6 894.5,655.6 900.5,655.6 906.5,655.6 912.5,655.7 918.5,655.7 924.5,655.7 930.5,655.7 936.5,656.0 942.5,658.0 948.5,659.2 954.5,660.5 960.5,661.7 966.5,662.7 972.5,663.8 978.5,665.0 984.5,666.0 990.5,666.0 996.5,666.0 1002.5,666.1 1008.5,666.1 1014.5,666.1 1020.5,666.1 1026.5,666.1 1032.5,666.0 1038.5,666.0 1044.5,666.0 1050.5,666.0 1056.5,666.0 1062.5,666.0 1068.5,666.0 1074.5,666.0 1080.5,666.1 1086.5,666.1 1092.5,666.0 1098.5,666.0 1104.5,666.0 1110.5,666.0 1116.5,665.9 1122.5,665.9 1128.5,665.4 1134.5,665.3 1140.5,665.3 1146.5,665.3 1152.5,665.3 1158.5,665.3 1164.5,665.3 1170.5,665.3 1176.5,665.3 1182.5,662.6 1188.5,661.6 1194.5,660.8 1200.5,660.0 1206.5,658.8 1212.5,657.3 1218.5,656.5 1224.5,655.5 1230.5,654.6 1236.5,654.8 1242.5,654.8 1248.5,655.2 1254.5,655.4 1260.5,655.4 1266.5,655.4 1272.5,655.4 1278.5,655.4 1284.5,655.4 1290.5,655.4 1296.5,655.4 1302.5,658.2 1308.5,659.0 1314.5,659.9 1320.5,660.7 1326.5,661.9 1332.5,663.4 1338.5,664.2 1344.5,665.2 1350.5,666.1 1356.5,666.1 1362.5,666.0 1368.5,666.0 1374.5,666.0 1380.5,666.0 1386.5,666.0 1392.5,666.0 1398.5,666.0 1404.5,666.0 1410.5,666.0 1416.5,666.0 1422.5,666.0 1428.5,666.1 1434.5,666.0 1440.5,666.0" stroke="#2e8bd8" stroke-width="1.1" fill="none" stroke-linejoin="round"/>
<text x="1452" y="190.8" font-size="12" fill="#848a96" textLength="52" lengthAdjust="spacingAndGlyphs">62720.00</text>
<text x="1452" y="246.8" font-size="12" fill="#848a96" textLength="52" lengthAdjust="spacingAndGlyphs">62640.00</text>
<text x="1452" y="301.8" font-size="12" fill="#848a96" textLength="52" lengthAdjust="spacingAndGlyphs">62560.00</text>
<text x="1452" y="356.8" font-size="12" fill="#848a96" textLength="52" lengthAdjust="spacingAndGlyphs">62480.00</text>
<text x="1452" y="411.8" font-size="12" fill="#848a96" textLength="52" lengthAdjust="spacingAndGlyphs">62400.00</text>
<text x="1452" y="466.8" font-size="12" fill="#848a96" textLength="52" lengthAdjust="spacingAndGlyphs">62320.00</text>
<text x="1452" y="521.8" font-size="12" fill="#848a96" textLength="52" lengthAdjust="spacingAndGlyphs">62240.00</text>
<text x="1452" y="600" font-size="12" fill="#848a96" textLength="18" lengthAdjust="spacingAndGlyphs">2M</text>
<text x="1452" y="628" font-size="12" fill="#848a96" textLength="28" lengthAdjust="spacingAndGlyphs">1.2M</text>
<text x="1452" y="656" font-size="12" fill="#848a96" textLength="30" lengthAdjust="spacingAndGlyphs">400K</text>
<rect x="1445.5" y="350.3" width="55.5" height="15.3" rx="1.5" fill="#f5495c"/>
<text x="1447.8" y="361.4" font-size="12" font-weight="bold" fill="#fff" textLength="51.2" lengthAdjust="spacingAndGlyphs">62474.04</text>
<text x="486" y="691" font-size="12" fill="#848a96" text-anchor="middle" textLength="31" lengthAdjust="spacingAndGlyphs">16:04</text>
<text x="606" y="691" font-size="12" fill="#848a96" text-anchor="middle" textLength="31" lengthAdjust="spacingAndGlyphs">16:24</text>
<text x="726" y="691" font-size="12" fill="#848a96" text-anchor="middle" textLength="31" lengthAdjust="spacingAndGlyphs">16:44</text>
<text x="846" y="691" font-size="12" fill="#848a96" text-anchor="middle" textLength="31" lengthAdjust="spacingAndGlyphs">17:04</text>
<text x="966" y="691" font-size="12" fill="#848a96" text-anchor="middle" textLength="31" lengthAdjust="spacingAndGlyphs">17:24</text>
<text x="1086" y="691" font-size="12" fill="#848a96" text-anchor="middle" textLength="31" lengthAdjust="spacingAndGlyphs">17:44</text>
<text x="1206" y="691" font-size="12" fill="#848a96" text-anchor="middle" textLength="31" lengthAdjust="spacingAndGlyphs">18:04</text>
<text x="1326" y="691" font-size="12" fill="#848a96" text-anchor="middle" textLength="31" lengthAdjust="spacingAndGlyphs">18:24</text>
<text x="398" y="170.5" font-size="12" fill="#7b818c" stroke="#7b818c" stroke-width=".25" textLength="132" lengthAdjust="spacingAndGlyphs">Time:2024-04-29 18:43</text>
<text x="549" y="170.5" font-size="12" fill="#7b818c" stroke="#7b818c" stroke-width=".25" textLength="61" lengthAdjust="spacingAndGlyphs">S:62487.34</text>
<text x="629" y="170.5" font-size="12" fill="#7b818c" stroke="#7b818c" stroke-width=".25" textLength="94" lengthAdjust="spacingAndGlyphs">Collect:62474.04</text>
<text x="742" y="170.5" font-size="12" fill="#7b818c" stroke="#7b818c" stroke-width=".25" textLength="82" lengthAdjust="spacingAndGlyphs">High:62487.35</text>
<text x="845" y="170.5" font-size="12" fill="#7b818c" stroke="#7b818c" stroke-width=".25" textLength="76" lengthAdjust="spacingAndGlyphs">Low:62474.04</text>
<text x="929" y="170.5" font-size="12" fill="#7b818c" stroke="#7b818c" stroke-width=".25" textLength="96" lengthAdjust="spacingAndGlyphs">Finished:10.547K</text>
<text x="401" y="188.5" font-size="12" fill="#7b818c" stroke="#7b818c" stroke-width=".25" textLength="86" lengthAdjust="spacingAndGlyphs">MA(5,10,30,60)</text>
<text x="504" y="188.5" font-size="12" fill="#f0a020" stroke="#f0a020" stroke-width=".25" textLength="85" lengthAdjust="spacingAndGlyphs">MA5: 62486.31</text>
<text x="606" y="188.5" font-size="12" fill="#a463c7" stroke="#a463c7" stroke-width=".25" textLength="93" lengthAdjust="spacingAndGlyphs">MA10: 62498.72</text>
<text x="715" y="188.5" font-size="12" fill="#2e8bd8" stroke="#2e8bd8" stroke-width=".25" textLength="93" lengthAdjust="spacingAndGlyphs">MA30: 62544.61</text>
<text x="824" y="188.5" font-size="12" fill="#d6336c" stroke="#d6336c" stroke-width=".25" textLength="93" lengthAdjust="spacingAndGlyphs">MA60: 62522.91</text>
<text x="401" y="589.5" font-size="12" fill="#7b818c" stroke="#7b818c" stroke-width=".25" textLength="73" lengthAdjust="spacingAndGlyphs">VOL(5,10,20)</text>
<text x="491" y="589.5" font-size="12" fill="#f0a020" stroke="#f0a020" stroke-width=".25" textLength="79" lengthAdjust="spacingAndGlyphs">MA5: 41.781K</text>
<text x="586" y="589.5" font-size="12" fill="#a463c7" stroke="#a463c7" stroke-width=".25" textLength="79" lengthAdjust="spacingAndGlyphs">MA10: 34.15K</text>
<text x="681" y="589.5" font-size="12" fill="#2e8bd8" stroke="#2e8bd8" stroke-width=".25" textLength="86" lengthAdjust="spacingAndGlyphs">MA20: 41.407K</text>
<text x="783" y="589.5" font-size="12" fill="#f5495c" stroke="#f5495c" stroke-width=".25" textLength="103" lengthAdjust="spacingAndGlyphs">VOLUME: 10.547K</text>
<text x="1342" y="215.5" font-size="10" fill="#7b818c" stroke="#7b818c" stroke-width=".25" textLength="43" lengthAdjust="spacingAndGlyphs">62673.67</text>
<path d="M1336 212.5h-4.5v5m-2-2l2 2.5l2-2.5" stroke="#7b818c" fill="none" stroke-width="1"/>
<text x="574" y="536.5" font-size="10" fill="#7b818c" stroke="#7b818c" stroke-width=".25" textLength="43" lengthAdjust="spacingAndGlyphs">62229.00</text>
<path d="M570 535.5h-4.5v-5m-2 2l2-2.5l2 2.5" stroke="#7b818c" fill="none" stroke-width="1"/>
</svg>

<div class="panel frm" style="left:381px;top:713px;width:1141px;height:217px">
</div>
<div class="frm">
  <div class="lb" style="left:421px;top:732px;line-height:20px">可用</div>
  <div class="lb" style="left:634px;top:733px;width:300px;text-align:right;line-height:20px">7055690.12309900 USDT</div>
  <div class="ot" style="left:421px;top:768px">限價委託</div>
  <div class="mt" style="left:551px;top:768px">市價委託</div>
  <div class="inp" style="left:421px;top:808px;width:513px"><span class="l">買入價</span><span class="v">62474.04</span><i class="sp"></i><b class="mi">−</b><b class="pl">+</b></div>
  <div class="inp" style="left:421px;top:864px;width:513px"><span class="l">買入量</span><span class="ph">輸入數量</span><i class="sp"></i><b class="mi">−</b><b class="pl">+</b></div>
  <div class="pill" style="left:421px;width:102px"></div><div class="pill" style="left:554px;width:103px"></div><div class="pill" style="left:688px;width:103px"></div><div class="pill" style="left:821px;width:103px"></div>
  <div class="abs" style="left:949px;top:728px;width:2px;height:202px;background:repeating-linear-gradient(to bottom,#2e2f33 0,#2e2f33 6px,transparent 6px,transparent 10px)"></div>
  <div class="lb" style="left:966px;top:732px;line-height:20px">可用</div>
  <div class="lb" style="left:1182px;top:733px;width:300px;text-align:right;line-height:20px">487.67140725 BTC</div>
  <div class="ot" style="left:966px;top:768px;width:104px">限價委託</div>
  <div class="mt" style="left:1097px;top:768px">市價委託</div>
  <div class="inp" style="left:966px;top:808px;width:516px"><span class="l">賣出價</span><span class="v">62474.04</span><i class="sp"></i><b class="mi">−</b><b class="pl">+</b></div>
  <div class="inp" style="left:966px;top:864px;width:516px"><span class="l">賣出量</span><span class="ph">輸入數量</span><i class="sp"></i><b class="mi">−</b><b class="pl">+</b></div>
  <div class="pill" style="left:966px;width:104px"></div><div class="pill" style="left:1101px;width:103px"></div><div class="pill" style="left:1235px;width:103px"></div><div class="pill" style="left:1369px;width:103px"></div>
</div>

<div class="panel" id="right">
  <div class="abs" style="left:20px;top:12px;font-size:12px;line-height:18px;color:#6c717b">盤口</div>
  <div class="abs" style="left:35px;top:62px;font-size:12px;line-height:18px;color:#6c717b">價格</div>
  <div class="abs" style="left:136px;top:62px;width:100px;text-align:center;font-size:12px;line-height:18px;color:#6c717b">數量</div>
  <div class="abs" style="right:35px;top:62px;font-size:12px;line-height:18px;color:#6c717b">時間</div>
  <div id="buys" style="position:absolute;left:0;top:86px">
<div class="or g" style="top:0px"><span>62474.0400</span><span>0.0029</span><span>18:43:11</span></div>
<div class="or g" style="top:30px"><span>62474.0400</span><span>0.0036</span><span>18:43:11</span></div>
<div class="or g" style="top:60px"><span>62474.0400</span><span>0.0340</span><span>18:43:11</span></div>
<div class="or g" style="top:90px"><span>62487.3400</span><span>0.0012</span><span>18:43:04</span></div>
<div class="or g" style="top:120px"><span>62487.3400</span><span>0.0003</span><span>18:43:03</span></div>
<div class="or g" style="top:150px"><span>62495.7900</span><span>0.0003</span><span>18:42:30</span></div>
<div class="or g" style="top:180px"><span>62495.7900</span><span>0.0045</span><span>18:42:30</span></div>
<div class="or g" style="top:210px"><span>62495.7900</span><span>0.0045</span><span>18:42:30</span></div>
<div class="or g" style="top:240px"><span>62520.4000</span><span>0.3475</span><span>18:42:25</span></div>
<div class="or g" style="top:270px"><span>62499.1300</span><span>0.0320</span><span>18:42:25</span></div>
<div class="or g" style="top:300px"><span>62503.1300</span><span>0.0031</span><span>18:42:25</span></div>
<div class="or g" style="top:330px"><span>62495.4800</span><span>0.3576</span><span>18:42:25</span></div>
<div class="or g" style="top:360px"><span>62495.4800</span><span>0.0045</span><span>18:42:25</span></div>
<div class="or g" style="top:390px"><span>62495.4800</span><span>0.0051</span><span>18:42:25</span></div>
  </div>
  <div class="abs" style="left:25px;top:517px;font-size:22px;font-weight:bold;line-height:24px;color:#f5495c">62474.04</div>
  <div id="sells" style="position:absolute;left:0;top:556px">
<div class="or r" style="top:0px"><span>62481.8600</span><span>0.0170</span><span>18:43:10</span></div>
<div class="or r" style="top:30px"><span>62481.8600</span><span>0.0002</span><span>18:43:10</span></div>
<div class="or r" style="top:60px"><span>62487.3300</span><span>0.0012</span><span>18:43:08</span></div>
<div class="or r" style="top:90px"><span>62487.3300</span><span>0.0023</span><span>18:43:04</span></div>
<div class="or r" style="top:120px"><span>62503.0800</span><span>0.0004</span><span>18:42:30</span></div>
<div class="or r" style="top:150px"><span>62503.0800</span><span>0.0047</span><span>18:42:30</span></div>
<div class="or r" style="top:180px"><span>62503.0800</span><span>0.0127</span><span>18:42:30</span></div>
<div class="or r" style="top:210px"><span>62504.8900</span><span>0.0051</span><span>18:42:30</span></div>
<div class="or r" style="top:240px"><span>62504.8900</span><span>0.0127</span><span>18:42:30</span></div>
<div class="or r" style="top:270px"><span>62506.2100</span><span>0.0002</span><span>18:42:29</span></div>
<div class="or r" style="top:300px"><span>62506.2100</span><span>0.0002</span><span>18:42:26</span></div>
  </div>
</div>

<div class="abs" style="left:1903px;top:0;width:17px;height:930px;background:#f1f1f1">
  <div class="abs" style="left:2px;top:17px;width:13px;height:526px;background:#c1c1c1"></div>
  <div class="abs" style="left:4px;top:6px;width:0;height:0;border-left:4.5px solid transparent;border-right:4.5px solid transparent;border-bottom:5px solid #a3a3a3"></div>
  <div class="abs" style="left:4px;top:919px;width:0;height:0;border-left:4.5px solid transparent;border-right:4.5px solid transparent;border-top:5px solid #505050"></div>
</div>
</body>
</html>
